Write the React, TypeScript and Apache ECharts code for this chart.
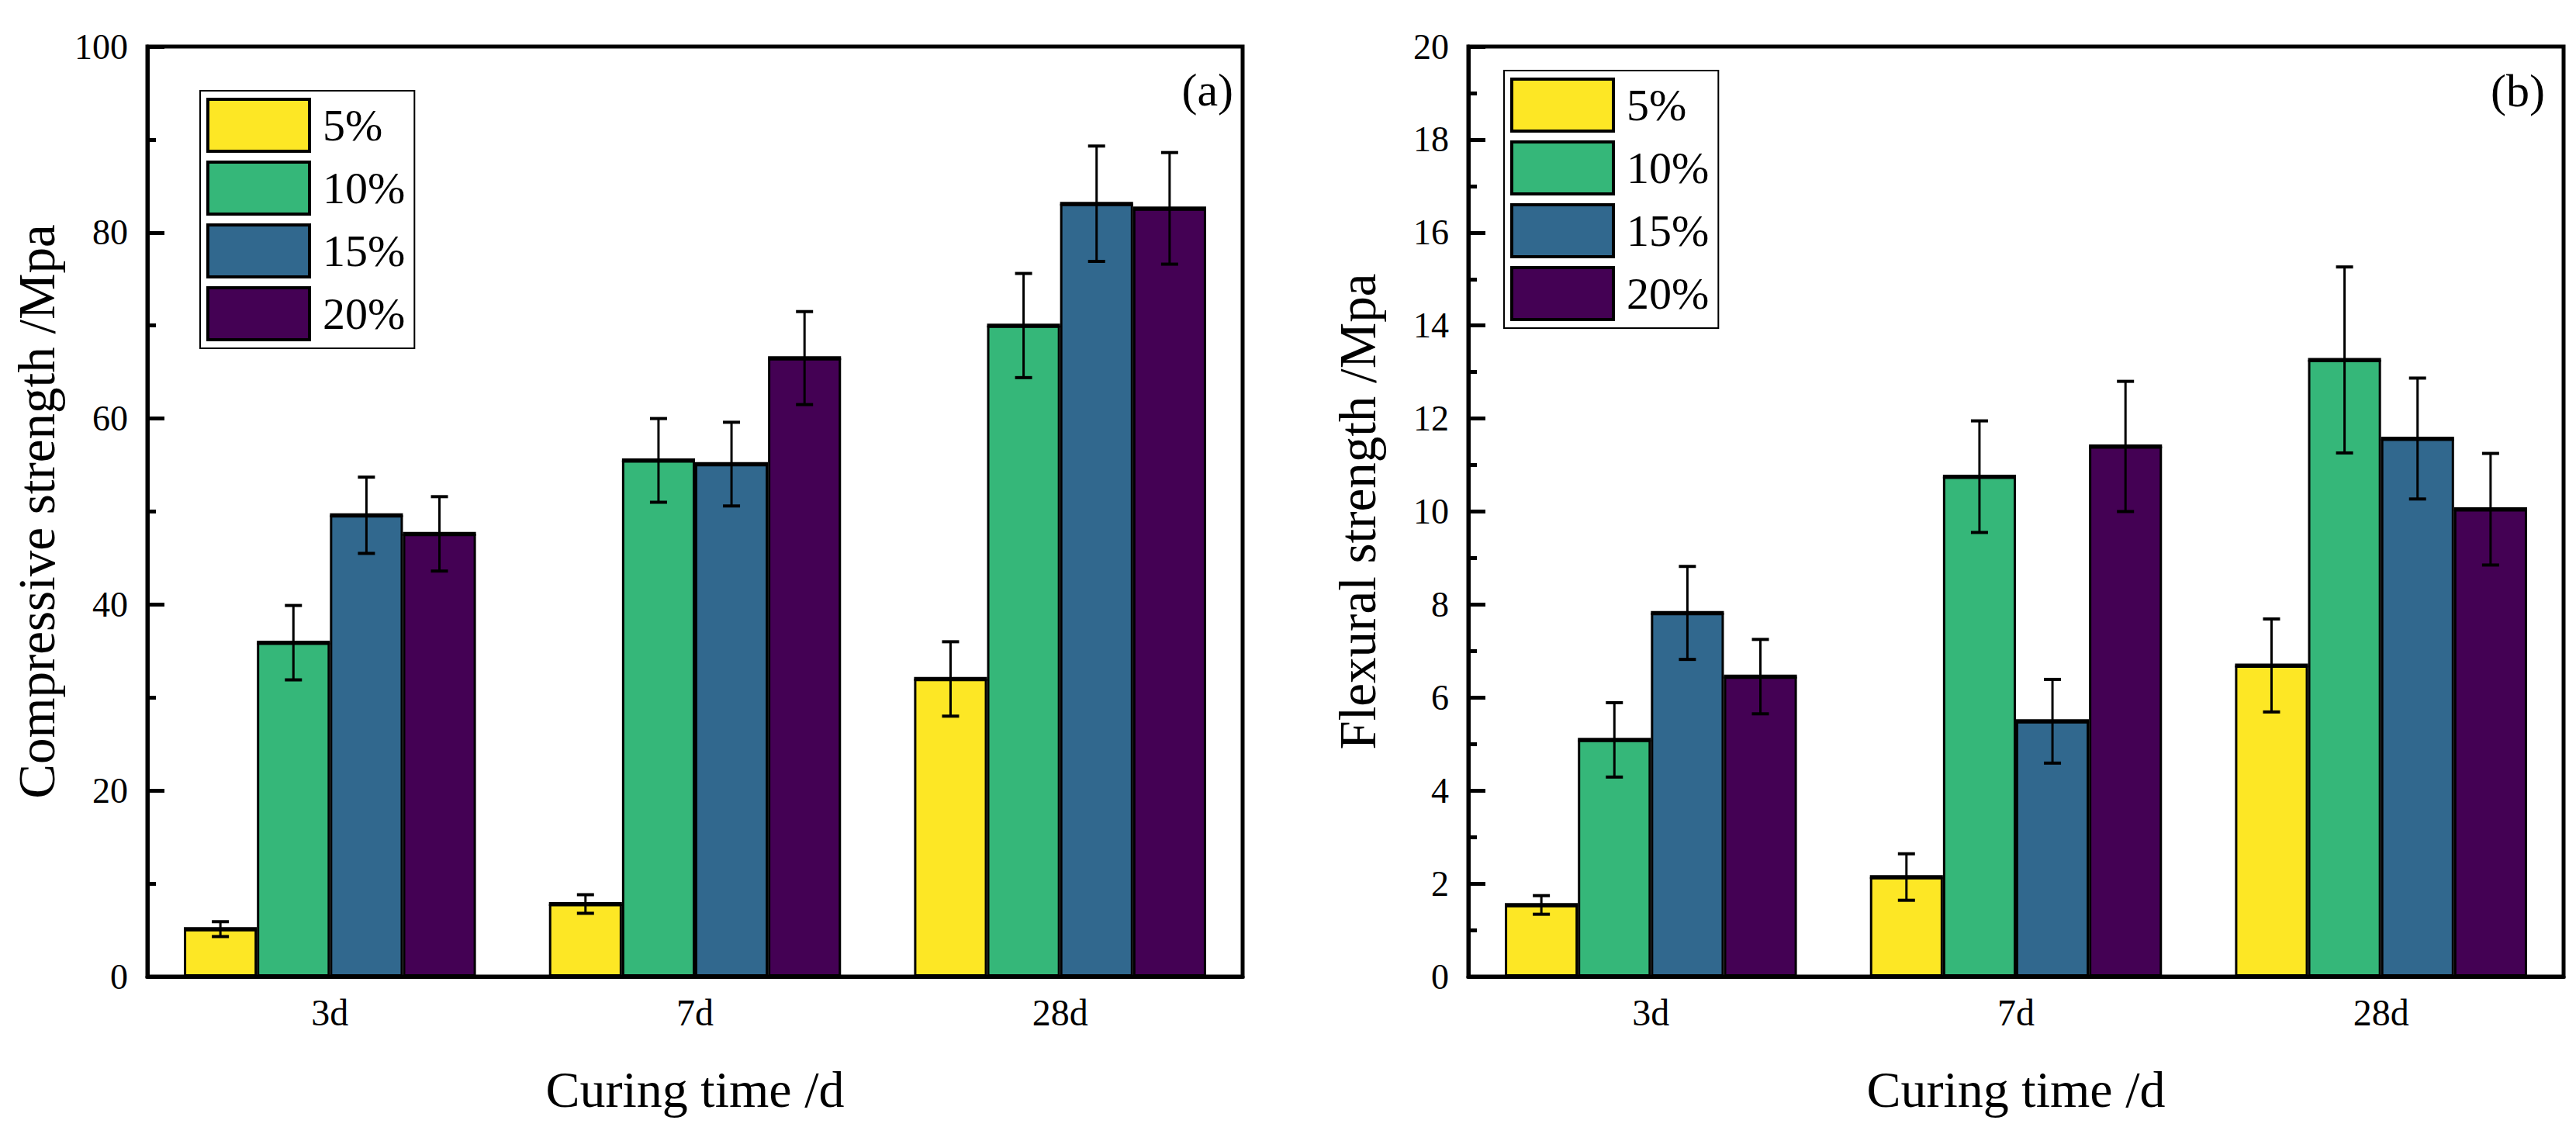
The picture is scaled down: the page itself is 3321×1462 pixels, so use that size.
import React, { useEffect, useRef } from 'react';
import * as echarts from 'echarts';

// curing ages and fly-ash dosages
const categories = ['3d', '7d', '28d'];
const groups = ['5%', '10%', '15%', '20%'];
const colors = ['#FDE725', '#35B779', '#31688E', '#440154'];

// compressive strength (Mpa), one row per dosage, columns = 3d / 7d / 28d
const compMean = [
  [5.1, 7.8, 32.0],
  [35.9, 55.5, 70.0],
  [49.6, 55.1, 83.1],
  [47.6, 66.5, 82.6],
];
const compErr = [
  [0.8, 1.0, 4.0],
  [4.0, 4.5, 5.6],
  [4.1, 4.5, 6.2],
  [4.0, 5.0, 6.0],
];

// flexural strength (Mpa)
const flexMean = [
  [1.54, 2.14, 6.69],
  [5.09, 10.75, 13.26],
  [7.82, 5.49, 11.57],
  [6.45, 11.4, 10.05],
];
const flexErr = [
  [0.2, 0.5, 1.0],
  [0.8, 1.2, 2.0],
  [1.0, 0.9, 1.3],
  [0.8, 1.4, 1.2],
];

const FONT = 'Liberation Serif';

const makeYAxis = (gridIndex: number, max: number, interval: number, name: string) => ({
  type: 'value',
  gridIndex,
  min: 0,
  max,
  interval,
  name,
  nameLocation: 'middle',
  nameGap: 110,
  nameTextStyle: { fontFamily: FONT, fontSize: 67, color: '#000' },
  axisLine: { show: true, lineStyle: { color: '#000', width: 5 } },
  axisTick: { show: true, inside: true, length: 22, lineStyle: { color: '#000', width: 5 } },
  minorTick: { show: true, splitNumber: 2, length: 11, lineStyle: { color: '#000', width: 5 } },
  axisLabel: { fontFamily: FONT, fontSize: 46, color: '#000', margin: 25 },
  splitLine: { show: false },
});

const makeXAxis = (gridIndex: number) => ({
  type: 'category',
  gridIndex,
  data: categories,
  name: 'Curing time /d',
  nameLocation: 'middle',
  nameGap: 112,
  nameTextStyle: { fontFamily: FONT, fontSize: 66, color: '#000' },
  axisLine: { show: true, lineStyle: { color: '#000', width: 5 } },
  axisTick: { show: false },
  axisLabel: { fontFamily: FONT, fontSize: 48, color: '#000', margin: 22 },
});

const makeBars = (gridIndex: number, means: number[][]) =>
  groups.map((g, s) => ({
    name: g,
    type: 'bar',
    xAxisIndex: gridIndex,
    yAxisIndex: gridIndex,
    data: means[s],
    barGap: '0%',
    barCategoryGap: '20%',
    itemStyle: { color: colors[s], borderColor: '#000', borderWidth: 3 },
  }));

// error bars (and the heavier top edge of each bar) drawn over the bars
const makeErrors = (gridIndex: number, means: number[][], errs: number[][]) => {
  const data: number[][] = [];
  means.forEach((row, s) => row.forEach((v, c) => data.push([c, v, errs[s][c], s])));
  return {
    type: 'custom',
    xAxisIndex: gridIndex,
    yAxisIndex: gridIndex,
    silent: true,
    z: 10,
    data,
    renderItem: (params: any, api: any) => {
      const c = api.value(0);
      const v = api.value(1);
      const e = api.value(2);
      const s = api.value(3);
      const band = api.size([1, 0])[0];
      const bw = (band * 0.8) / 4;
      const base = api.coord([c, v]);
      const x = base[0] + (s - 1.5) * bw;
      const yTop = api.coord([c, v + e])[1];
      const yBot = api.coord([c, v - e])[1];
      const cap = 11;
      const thin = { stroke: '#000', lineWidth: 3 };
      const thick = { stroke: '#000', lineWidth: 4 };
      return {
        type: 'group',
        children: [
          { type: 'line', shape: { x1: x - bw / 2, y1: base[1], x2: x + bw / 2, y2: base[1] }, style: { stroke: '#000', lineWidth: 5 } },
          { type: 'line', shape: { x1: x, y1: yTop, x2: x, y2: yBot }, style: thin },
          { type: 'line', shape: { x1: x - cap, y1: yTop, x2: x + cap, y2: yTop }, style: thick },
          { type: 'line', shape: { x1: x - cap, y1: yBot, x2: x + cap, y2: yBot }, style: thick },
        ],
      };
    },
  };
};

const legendText = { fontFamily: FONT, fontSize: 58, color: '#000', fontWeight: 'normal' };

const makeLegend = (left: number, top: number) => ({
  data: groups,
  orient: 'vertical',
  left,
  top,
  itemWidth: 131,
  itemHeight: 67,
  itemGap: 10,
  padding: [9, 12, 9, 8],
  borderColor: '#000',
  borderWidth: 2,
  icon: 'rect',
  itemStyle: { borderColor: '#000', borderWidth: 4 },
  formatter: (name: string) => '{t|' + name + '}',
  textStyle: {
    ...legendText,
    rich: { t: { ...legendText, padding: [0, 0, 0, 12] } },
  },
});

const App: React.FC = () => {
  const chartRef = useRef<HTMLDivElement>(null);

  useEffect(() => {
    if (!chartRef.current) return;
    document.body.style.margin = '0';
    const chart = echarts.init(chartRef.current, null, { renderer: 'svg' });

    const option: any = {
      animation: false,
      backgroundColor: '#fff',
      textStyle: { fontFamily: FONT, color: '#000' },
      grid: [
        { left: 190, top: 60, width: 1412, height: 1199, show: true, borderColor: '#000', borderWidth: 5, backgroundColor: 'transparent' },
        { left: 1893, top: 60, width: 1412, height: 1199, show: true, borderColor: '#000', borderWidth: 5, backgroundColor: 'transparent' },
      ],
      xAxis: [makeXAxis(0), makeXAxis(1)],
      yAxis: [
        makeYAxis(0, 100, 20, 'Compressive strength /Mpa'),
        makeYAxis(1, 20, 2, 'Flexural strength /Mpa'),
      ],
      legend: [makeLegend(258, 117), makeLegend(1939, 91)],
      graphic: [
        { type: 'text', x: 1590, y: 116, style: { text: '(a)', fontFamily: FONT, fontSize: 60, fill: '#000', textAlign: 'right', textVerticalAlign: 'middle' } },
        { type: 'text', x: 3281, y: 117, style: { text: '(b)', fontFamily: FONT, fontSize: 60, fill: '#000', textAlign: 'right', textVerticalAlign: 'middle' } },
      ],
      series: [
        ...makeBars(0, compMean),
        ...makeBars(1, flexMean),
        makeErrors(0, compMean, compErr),
        makeErrors(1, flexMean, flexErr),
      ],
    };

    chart.setOption(option);

    return () => {
      chart.dispose();
    };
  }, []);

  return <div ref={chartRef} style={{ width: '3321px', height: '1462px' }} />;
};

export default App;
